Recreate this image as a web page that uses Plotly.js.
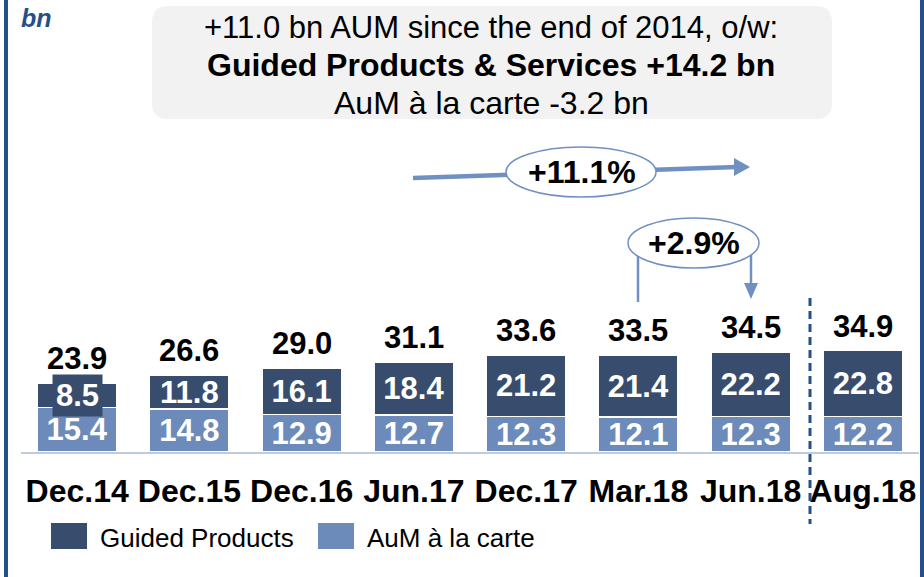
<!DOCTYPE html>
<html>
<head>
<meta charset="utf-8">
<script src="https://cdn.plot.ly/plotly-3.0.1.min.js"></script>
<style>html,body{margin:0;padding:0;background:#fff;}#chart{width:924px;height:577px;}</style>
</head>
<body>
<div id="chart"></div>
<script>
// ---- data ----
const categories = ['Dec.14','Dec.15','Dec.16','Jun.17','Dec.17','Mar.18','Jun.18','Aug.18'];
const guided = [8.5, 11.8, 16.1, 18.4, 21.2, 21.4, 22.2, 22.8];
const aLaCarte = [15.4, 14.8, 12.9, 12.7, 12.3, 12.1, 12.3, 12.2];
const totals = [23.9, 26.6, 29.0, 31.1, 33.6, 33.5, 34.5, 34.9];
const seriesNames = ['Guided Products', 'AuM à la carte'];
const headline = ['+11.0 bn AUM since the end of 2014, o/w:', '<b>Guided Products &amp; Services +14.2 bn</b>', 'AuM à la carte -3.2 bn'];
const growthLabels = ['+11.1%', '+2.9%'];
const unitLabel = 'bn';

// ---- style ----
const DARK = '#384D6E', LIGHT = '#6D8BBA', ARROW = '#7090C2', FRAME = '#24508A';
const FONT = 'Liberation Sans, Arial, sans-serif';
const L = 21, T = 6, W = 898, H = 446, YMAX = 154.1;
const px = x => (x - L) / W;
const py = y => (T + H - y) / H;
const pxPerUnit = H / YMAX;

function rr(x0, y0, x1, y1, r) {
  const P = (x, y) => px(x) + ',' + py(y);
  return 'M' + P(x0 + r, y0) + ' L' + P(x1 - r, y0) + ' Q' + P(x1, y0) + ' ' + P(x1, y0 + r) +
    ' L' + P(x1, y1 - r) + ' Q' + P(x1, y1) + ' ' + P(x1 - r, y1) +
    ' L' + P(x0 + r, y1) + ' Q' + P(x0, y1) + ' ' + P(x0, y1 - r) +
    ' L' + P(x0, y0 + r) + ' Q' + P(x0, y0) + ' ' + P(x0 + r, y0) + ' Z';
}
function tri(pts) {
  return 'M' + pts.map(p => px(p[0]) + ',' + py(p[1])).join(' L') + ' Z';
}
const pline = (x0, y0, x1, y1, color, width, dash) => ({
  type: 'line', xref: 'paper', yref: 'paper', x0: px(x0), y0: py(y0), x1: px(x1), y1: py(y1),
  line: {color: color, width: width, dash: dash || 'solid'}, layer: 'above'
});

const fits = v => v * pxPerUnit >= 30;

const traces = [
  {
    type: 'bar', name: seriesNames[1], x: categories, y: aLaCarte,
    marker: {color: LIGHT, line: {color: '#fff', width: 1.5}},
    text: aLaCarte.map(v => v.toFixed(1)), textposition: 'inside', insidetextanchor: 'middle',
    constraintext: 'none', textangle: 0,
    textfont: {family: FONT, size: 31, color: '#fff', weight: 'bold'},
    hoverinfo: 'x+y+name'
  },
  {
    type: 'bar', name: seriesNames[0], x: categories, y: guided,
    marker: {color: DARK, line: {color: '#fff', width: 1.5}},
    text: guided.map(v => fits(v) ? v.toFixed(1) : ''), textposition: 'inside', insidetextanchor: 'middle',
    constraintext: 'none', textangle: 0,
    textfont: {family: FONT, size: 31, color: '#fff', weight: 'bold'},
    hoverinfo: 'x+y+name'
  }
];

const annotations = [];
// totals
categories.forEach((c, i) => {
  annotations.push({x: c, y: totals[i], xref: 'x', yref: 'y', text: totals[i].toFixed(1), showarrow: false,
    yanchor: 'bottom', yshift: 5, font: {family: FONT, size: 31, color: '#000', weight: 'bold'}});
  if (!fits(guided[i])) {
    annotations.push({x: c, y: aLaCarte[i] + guided[i] / 2, xref: 'x', yref: 'y', text: guided[i].toFixed(1),
      showarrow: false, bgcolor: DARK, borderpad: 3, yanchor: 'middle',
      font: {family: FONT, size: 31, color: '#fff', weight: 'bold'}});
  }
});
// headline box text
[[27, 31], [65, 32], [103, 32]].forEach((d, i) => {
  annotations.push({xref: 'paper', yref: 'paper', x: px(491), y: py(d[0]), text: headline[i], showarrow: false,
    xanchor: 'center', yanchor: 'middle', font: {family: FONT, size: d[1], color: '#000'}});
});
// unit label
annotations.push({xref: 'paper', yref: 'paper', x: px(19), y: py(18), text: '<b><i>' + unitLabel + '</i></b>',
  showarrow: false, xanchor: 'left', yanchor: 'middle', font: {family: FONT, size: 25, color: FRAME}});
// growth labels
annotations.push({xref: 'paper', yref: 'paper', x: px(582), y: py(172), text: growthLabels[0], showarrow: false,
  xanchor: 'center', yanchor: 'middle', font: {family: FONT, size: 32, color: '#000', weight: 'bold'}});
annotations.push({xref: 'paper', yref: 'paper', x: px(694), y: py(243), text: growthLabels[1], showarrow: false,
  xanchor: 'center', yanchor: 'middle', font: {family: FONT, size: 32, color: '#000', weight: 'bold'}});
// legend text
annotations.push({xref: 'paper', yref: 'paper', x: px(98), y: py(538), text: seriesNames[0], showarrow: false,
  xanchor: 'left', yanchor: 'middle', font: {family: FONT, size: 26, color: '#000'}});
annotations.push({xref: 'paper', yref: 'paper', x: px(365), y: py(538), text: seriesNames[1], showarrow: false,
  xanchor: 'left', yanchor: 'middle', font: {family: FONT, size: 26, color: '#000'}});

const shapes = [
  // frame lines
  pline(6, 0, 6, 577, FRAME, 4),
  pline(922, 0, 922, 577, FRAME, 4),
  // headline box
  {type: 'path', xref: 'paper', yref: 'paper', path: rr(152, 6, 832, 119, 16), fillcolor: '#F2F2F2', line: {width: 0}, layer: 'below'},
  // +11.1% arrow
  pline(413, 178, 737, 167, ARROW, 4.5),
  {type: 'path', xref: 'paper', yref: 'paper', path: tri([[734, 158], [750, 167], [734, 176]]), fillcolor: ARROW, line: {width: 0}, layer: 'above'},
  {type: 'circle', xref: 'paper', yref: 'paper', x0: px(506), x1: px(656), y0: py(197), y1: py(147), fillcolor: '#fff', line: {color: ARROW, width: 1.5}, layer: 'above'},
  // +2.9% arrow
  pline(638, 255, 638, 302, ARROW, 2.5),
  pline(751, 254, 751, 285, ARROW, 2.5),
  {type: 'path', xref: 'paper', yref: 'paper', path: tri([[744, 283], [758, 283], [751, 299]]), fillcolor: ARROW, line: {width: 0}, layer: 'above'},
  {type: 'circle', xref: 'paper', yref: 'paper', x0: px(628), x1: px(759), y0: py(268), y1: py(218), fillcolor: '#fff', line: {color: ARROW, width: 1.5}, layer: 'above'},
  // dashed separator
  pline(810, 298, 810, 524, FRAME, 3, '8px,5px'),
  // legend swatches
  {type: 'rect', xref: 'paper', yref: 'paper', x0: px(51), x1: px(87), y0: py(549), y1: py(523), fillcolor: DARK, line: {width: 0}},
  {type: 'rect', xref: 'paper', yref: 'paper', x0: px(318), x1: px(354), y0: py(549), y1: py(523), fillcolor: LIGHT, line: {width: 0}}
];

const layout = {
  width: 924, height: 577,
  margin: {l: L, r: 924 - L - W, t: T, b: 577 - T - H, pad: 0},
  paper_bgcolor: '#fff', plot_bgcolor: 'rgba(0,0,0,0)',
  barmode: 'stack', bargap: 0.29,
  showlegend: false,
  uniformtext: {mode: 'show', minsize: 31},
  xaxis: {type: 'category', range: [-0.5, 7.5], fixedrange: true, showgrid: false, zeroline: false,
    showline: true, linecolor: '#BCCBE0', linewidth: 2,
    ticks: 'outside', ticklen: 10, tickcolor: 'rgba(0,0,0,0)',
    tickfont: {family: FONT, size: 32, color: '#000', weight: 'bold'}},
  yaxis: {range: [0, YMAX], visible: false, fixedrange: true},
  annotations: annotations,
  shapes: shapes,
  font: {family: FONT}
};

Plotly.newPlot('chart', traces, layout, {displayModeBar: false, staticPlot: true});
</script>
</body>
</html>
